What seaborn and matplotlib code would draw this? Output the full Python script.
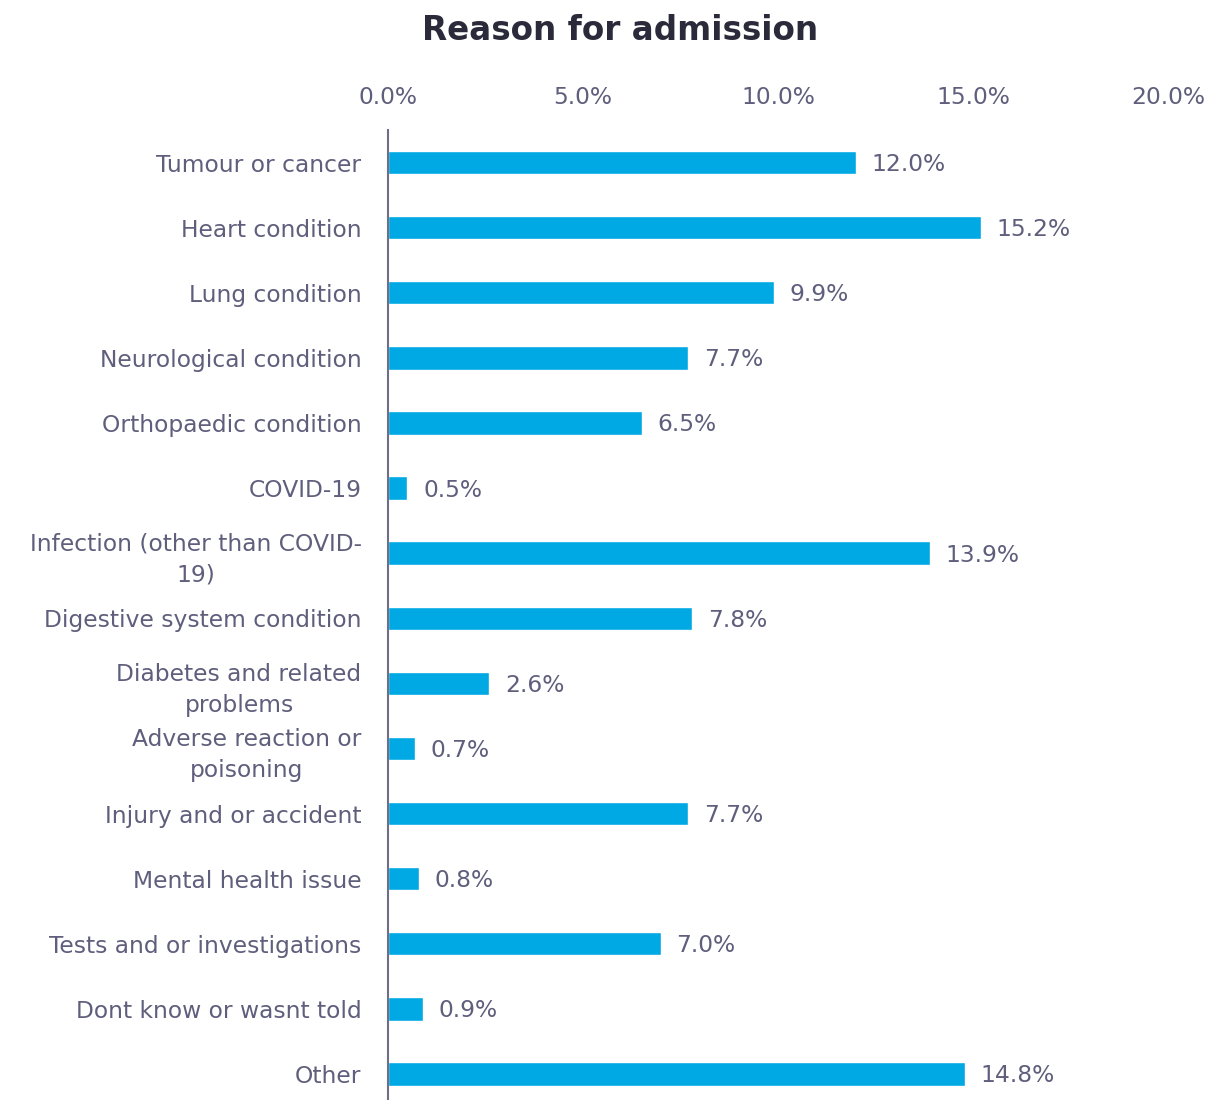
import matplotlib
matplotlib.use("Agg")
import matplotlib.pyplot as plt
import seaborn as sns
import pandas as pd

categories = [
    "Tumour or cancer",
    "Heart condition",
    "Lung condition",
    "Neurological condition",
    "Orthopaedic condition",
    "COVID-19",
    "Infection (other than COVID-\n19)",
    "Digestive system condition",
    "Diabetes and related\nproblems",
    "Adverse reaction or\npoisoning",
    "Injury and or accident",
    "Mental health issue",
    "Tests and or investigations",
    "Dont know or wasnt told",
    "Other",
]
values = [12.0, 15.2, 9.9, 7.7, 6.5, 0.5, 13.9, 7.8, 2.6, 0.7, 7.7, 0.8, 7.0, 0.9, 14.8]
x_ticks = [0, 5, 10, 15, 20]

BAR = "#00a9e3"
TEXT = "#5f5f7d"
TITLE = "#2a2a3a"
FS = 16.8

sns.set_theme(style="white")
plt.rcParams["font.family"] = ["DejaVu Sans"]

df = pd.DataFrame({"reason": categories, "pct": values})

fig = plt.figure(figsize=(12.09, 11.0), dpi=100)
ax = fig.add_axes([388 / 1209, 0.0, 780 / 1209, 1 - 130 / 1100])

sns.barplot(data=df, x="pct", y="reason", orient="h", color=BAR,
            width=0.36, saturation=1, ax=ax)

ax.set_xlim(0, 20)
ax.set_ylim(14.4, -0.5)
ax.set_xticks(x_ticks)
ax.set_xticklabels([f"{t:.1f}%" for t in x_ticks])
ax.xaxis.tick_top()
ax.tick_params(axis="x", length=0, pad=15, labelsize=FS, labelcolor=TEXT)
ax.tick_params(axis="y", length=0, pad=19, labelsize=FS, labelcolor=TEXT)
for lbl in ax.get_yticklabels():
    lbl.set_multialignment("center")
    lbl.set_linespacing(1.45)
ax.set_xlabel("")
ax.set_ylabel("")

for side in ["top", "right", "bottom"]:
    ax.spines[side].set_visible(False)
ax.spines["left"].set_color("#6e6e86")
ax.spines["left"].set_linewidth(1.5)

for i, v in enumerate(values):
    ax.text(v + 0.4, i + 0.03, f"{v:.1f}%", va="center", ha="left",
            fontsize=FS, color=TEXT)

fig.text(620 / 1209, 1 - 30 / 1100, "Reason for admission", ha="center",
         va="center", fontsize=23.5, fontweight="bold", color=TITLE)

fig.savefig("out.png", dpi=100)
